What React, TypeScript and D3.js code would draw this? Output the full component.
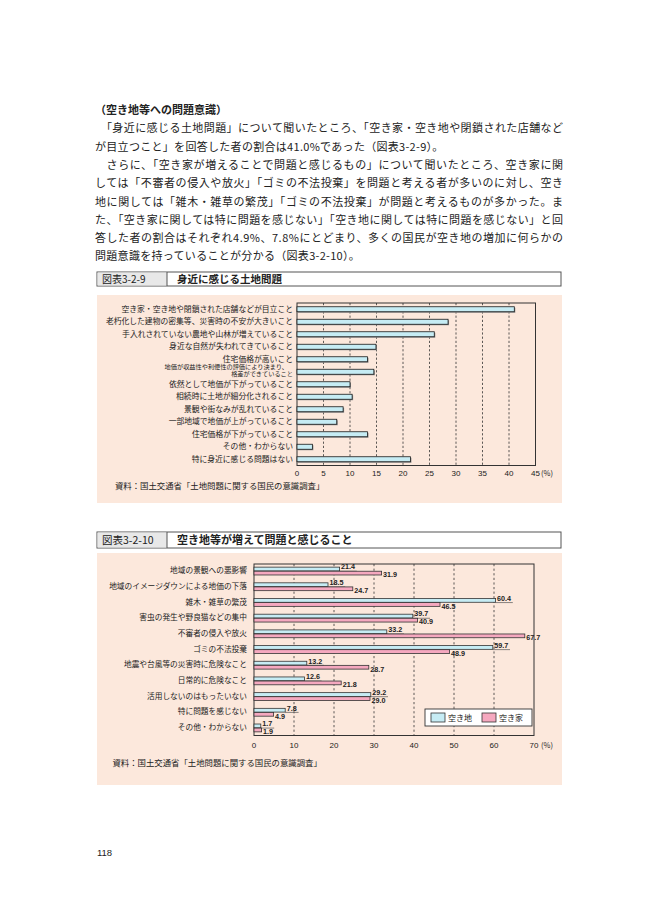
import React from 'react';
import * as d3 from 'd3';

const headingText = '（空き地等への問題意識）';
const paragraphLines = [
  '　「身近に感じる土地問題」について聞いたところ、「空き家・空き地や閉鎖された店舗など',
  'が目立つこと」を回答した者の割合は41.0%であった（図表3-2-9）。',
  '　さらに、「空き家が増えることで問題と感じるもの」について聞いたところ、空き家に関',
  'しては「不審者の侵入や放火」「ゴミの不法投棄」を問題と考える者が多いのに対し、空き',
  '地に関しては「雑木・雑草の繁茂」「ゴミの不法投棄」が問題と考えるものが多かった。ま',
  'た、「空き家に関しては特に問題を感じない」「空き地に関しては特に問題を感じない」と回',
  '答した者の割合はそれぞれ4.9%、7.8%にとどまり、多くの国民が空き地の増加に何らかの',
  '問題意識を持っていることが分かる（図表3-2-10）。',
];
const justifiedLines = [true, false, true, true, true, true, true, false];

const chart1Number = '図表3-2-9';
const chart1Title = '身近に感じる土地問題';
const issueCategories = [
  '空き家・空き地や閉鎖された店舗などが目立こと',
  '老朽化した建物の密集等、災害時の不安が大きいこと',
  '手入れされていない農地や山林が増えていること',
  '身近な自然が失われてきていること',
  '住宅価格が高いこと',
  '地価が収益性や利便性の評価により決まり、\n格差ができていること',
  '依然として地価が下がっていること',
  '相続時に土地が細分化されること',
  '景観や街なみが乱れていること',
  '一部地域で地価が上がっていること',
  '住宅価格が下がっていること',
  'その他・わからない',
  '特に身近に感じる問題はない',
];
const issueValues = [41.0, 28.5, 25.9, 14.9, 13.3, 14.5, 10.0, 10.4, 8.7, 7.5, 13.3, 2.9, 21.4];
const issueTicks = [0, 5, 10, 15, 20, 25, 30, 35, 40, 45];

const chart2Number = '図表3-2-10';
const chart2Title = '空き地等が増えて問題と感じること';
const concernCategories = [
  '地域の景観への悪影響',
  '地域のイメージダウンによる地価の下落',
  '雑木・雑草の繁茂',
  '害虫の発生や野良猫などの集中',
  '不審者の侵入や放火',
  'ゴミの不法投棄',
  '地震や台風等の災害時に危険なこと',
  '日常的に危険なこと',
  '活用しないのはもったいない',
  '特に問題を感じない',
  'その他・わからない',
];
const vacantLandValues = [21.4, 18.5, 60.4, 39.7, 33.2, 59.7, 13.2, 12.6, 29.2, 7.8, 1.7];
const vacantHouseValues = [31.9, 24.7, 46.5, 40.9, 67.7, 48.9, 28.7, 21.8, 29.0, 4.9, 1.9];
const concernTicks = [0, 10, 20, 30, 40, 50, 60, 70];
const seriesNames = ['空き地', '空き家'];

const sourceText = '資料：国土交通省「土地問題に関する国民の意識調査」';
const pageNumber = '118';

const JP = '"Noto Sans CJK JP", "Noto Sans", sans-serif';
const NUM = '"Liberation Sans", Arial, sans-serif';
const PINK_BG = '#fce8dc';
const BLUE = '#c6ecf4';
const PINK = '#f5a8bf';
const INK = '#222';

function Header({ y, h, num, title, fs }: { y: number; h: number; num: string; title: string; fs: number }) {
  return (
    <g>
      <rect x={97} y={y} width={464} height={h} fill="#fff" stroke="#555" strokeWidth={1} />
      <rect x={97.5} y={y + 0.5} width={69.5} height={h - 1} fill="#e8e8e8" />
      <line x1={167} x2={167} y1={y} y2={y + h} stroke="#555" strokeWidth={1} />
      <text x={102} y={y + h / 2 + fs * 0.36} fontSize={fs} fontFamily={JP} fill={INK}>{num}</text>
      <text x={177} y={y + h / 2 + fs * 0.36} fontSize={fs + 0.5} fontFamily={JP} fill={INK} fontWeight={700}>{title}</text>
    </g>
  );
}

export default function App() {
  // ---------- chart 1 ----------
  const x1 = d3.scaleLinear().domain([0, 45]).range([297, 535.5]);
  const y1 = d3.scaleBand<string>().domain(issueCategories).range([303, 465.5]).paddingInner(0.6).paddingOuter(0.3);
  const p1Top = 303, p1Bot = 465.5;

  // ---------- chart 2 ----------
  const x2 = d3.scaleLinear().domain([0, 70]).range([254, 534]);
  const y2 = d3.scaleBand<string>().domain(concernCategories).range([564, 735]).paddingInner(0.5).paddingOuter(0.2);
  const ySub = d3.scaleBand<string>().domain(seriesNames).range([0, y2.bandwidth()]).paddingInner(0.08);
  const p2Top = 564, p2Bot = 735.5;

  const lineStep = 18.3;

  return (
    <svg width={669} height={916} viewBox="0 0 669 916" style={{ position: 'absolute', left: 0, top: 0, background: '#fff' }}>
      <rect x={0} y={0} width={669} height={916} fill="#fff" />
      {/* body text */}
      <text x={95} y={114} fontSize={11} fontFamily={JP} fontWeight={700} fill={INK}>{headingText}</text>
      {paragraphLines.map((ln, i) => (
        <text
          key={i}
          x={95}
          y={114 + (i + 1) * lineStep}
          fontSize={11}
          fontFamily={JP}
          fill={INK}
          {...(justifiedLines[i] ? { textLength: 468, lengthAdjust: 'spacing' } : { letterSpacing: 0.3 })}
        >
          {ln}
        </text>
      ))}

      {/* ===== Chart 1 ===== */}
      <Header y={272} h={14} num={chart1Number} title={chart1Title} fs={10} />
      <rect x={97} y={295} width={465} height={208} fill={PINK_BG} />
      {issueTicks.filter((t) => t > 0 && t < 45).map((t) => (
        <line key={t} x1={x1(t)} x2={x1(t)} y1={p1Top} y2={p1Bot} stroke="#333" strokeWidth={0.8} strokeDasharray="2.2,2" />
      ))}
      <rect x={x1(0)} y={p1Top} width={x1(45) - x1(0)} height={p1Bot - p1Top} fill="none" stroke="#333" strokeWidth={1} />
      {issueCategories.map((c, i) => {
        const y = y1(c)!;
        const bw = y1.bandwidth();
        const cy = y + bw / 2;
        const w = x1(issueValues[i]) - x1(0);
        const parts = c.split('\n');
        return (
          <g key={c}>
            <rect x={x1(0) + 1} y={y + 1} width={w} height={bw} fill="#8a8a8a" />
            <rect x={x1(0)} y={y} width={w} height={bw} fill={BLUE} stroke="#1a1a1a" strokeWidth={0.8} />
            {parts.length === 1 ? (
              <text x={293} y={cy + 2.7} fontSize={7.8} fontFamily={JP} fill={INK} textAnchor="end">{c}</text>
            ) : (
              <text fontSize={6.2} fontFamily={JP} fill={INK} textAnchor="end">
                <tspan x={288} y={cy - 2.3}>{parts[0]}</tspan>
                <tspan x={293} y={cy + 4.6}>{parts[1]}</tspan>
              </text>
            )}
          </g>
        );
      })}
      {issueTicks.map((t) => (
        <text key={t} x={x1(t)} y={476} fontSize={8} fontFamily={NUM} fill={INK} textAnchor="middle">{t}</text>
      ))}
      <text x={541} y={476} fontSize={7.5} fontFamily={JP} fill={INK}>(%)</text>
      <text x={115} y={489} fontSize={8.4} fontFamily={JP} fill={INK}>{sourceText}</text>

      {/* ===== Chart 2 ===== */}
      <Header y={532} h={16} num={chart2Number} title={chart2Title} fs={10.5} />
      <rect x={97} y={553} width={465} height={232} fill={PINK_BG} />
      {concernTicks.filter((t) => t > 0 && t < 70).map((t) => (
        <line key={t} x1={x2(t)} x2={x2(t)} y1={p2Top} y2={p2Bot} stroke="#333" strokeWidth={0.8} strokeDasharray="2.2,2.4" />
      ))}
      <rect x={x2(0)} y={p2Top} width={x2(70) - x2(0)} height={p2Bot - p2Top} fill="none" stroke="#333" strokeWidth={1} />
      {concernCategories.map((c, i) => {
        const y = y2(c)!;
        const cy = y + y2.bandwidth() / 2;
        const sh = ySub.bandwidth();
        const yb = y + ySub(seriesNames[0])!;
        const yp = y + ySub(seriesNames[1])!;
        const wb = x2(vacantLandValues[i]) - x2(0);
        const wp = x2(vacantHouseValues[i]) - x2(0);
        const lblB = vacantLandValues[i].toFixed(1);
        const lblP = vacantHouseValues[i].toFixed(1);
        const lblBw = lblB.length * 3.8;
        return (
          <g key={c}>
            <text x={247} y={cy + 2.2} fontSize={7.7} fontFamily={JP} fill={INK} textAnchor="end">{c}</text>
            <line x1={x2(0) + wb} x2={x2(0) + wb + 2 + lblBw} y1={yb + sh + 0.3} y2={yb + sh + 0.3} stroke="#555" strokeWidth={0.7} />
            <rect x={x2(0)} y={yb} width={wb} height={sh} fill={BLUE} stroke="#333" strokeWidth={0.8} />
            <rect x={x2(0)} y={yp} width={wp} height={sh} fill={PINK} stroke="#333" strokeWidth={0.8} />
            <text x={x2(0) + wb + 1.5} y={yb + sh - 1.5} fontSize={7.2} fontFamily={NUM} fontWeight={700} fill={INK}>{lblB}</text>
            <text x={x2(0) + wp + 1.5} y={yp + sh + 2.4} fontSize={7.2} fontFamily={NUM} fontWeight={700} fill={INK}>{lblP}</text>
          </g>
        );
      })}
      {/* legend */}
      <rect x={425} y={709} width={107} height={17} fill="#fff" stroke="#333" strokeWidth={0.9} />
      {seriesNames.map((s, i) => (
        <g key={s}>
          <rect x={431 + i * 51} y={713} width={14} height={9} fill={i === 0 ? BLUE : PINK} stroke="#333" strokeWidth={0.8} />
          <text x={448 + i * 51} y={720.8} fontSize={8} fontFamily={JP} fill={INK}>{s}</text>
        </g>
      ))}
      {concernTicks.map((t) => (
        <text key={t} x={x2(t)} y={748} fontSize={8} fontFamily={NUM} fill={INK} textAnchor="middle">{t}</text>
      ))}
      <text x={541} y={748} fontSize={7.5} fontFamily={JP} fill={INK}>(%)</text>
      <text x={112.5} y={766} fontSize={8.4} fontFamily={JP} fill={INK}>{sourceText}</text>

      <text x={97} y={856} fontSize={9.5} fontFamily={NUM} fill={INK}>{pageNumber}</text>
    </svg>
  );
}
